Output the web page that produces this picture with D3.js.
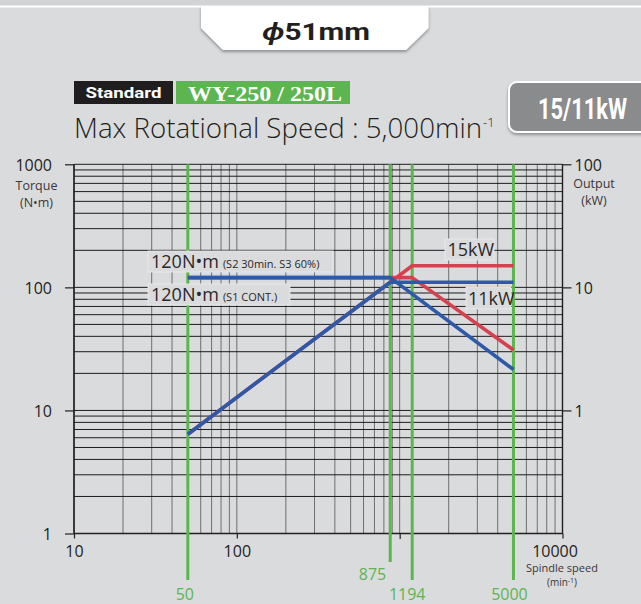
<!DOCTYPE html>
<html>
<head>
<meta charset="utf-8">
<script src="https://cdn.jsdelivr.net/npm/d3@7/dist/d3.min.js"></script>
<style>
  html, body { margin: 0; padding: 0; background: #dadbdd; }
  svg { display: block; }
  text { font-family: "Open Sans", "Noto Sans", sans-serif; fill: #231f20; }
</style>
</head>
<body>
<svg id="chart" width="641" height="604"></svg>
<script>
// Axis ticks and labels
const torqueTicks = [1, 10, 100, 1000];
const outputTicks = [1, 10, 100];
const speedTicks = [10, 100, 1000, 10000];
const speedTickLabels = ["10", "100", "", "10000"];
const markSpeeds = [50, 875, 1194, 5000];

// S1 (continuous) curves
const s1Speed = [50, 875, 5000];
const s1Torque = [120, 120, 21.5];
const s1Output = [0.64, 11, 11];

// S2 30min / S3 60% curves
const s2Speed = [50, 1194, 5000];
const s2Torque = [120, 120, 31];
const s2Output = [0.64, 15, 15];

const BLUE = "#2d5aa8", RED = "#d6414f", GREEN = "#5cb550";

const svg = d3.select("#chart");
const defs = svg.append("defs");
const shadow = defs.append("filter").attr("id", "shadow")
  .attr("x", "-10%").attr("y", "-20%").attr("width", "120%").attr("height", "160%");
shadow.append("feDropShadow").attr("dx", 0).attr("dy", 2)
  .attr("stdDeviation", 1.6).attr("flood-color", "#000").attr("flood-opacity", 0.35);

// ---- header ----
svg.append("rect").attr("x", 0).attr("y", 0).attr("width", 641).attr("height", 6).attr("fill", "#d2d3d5");
svg.append("rect").attr("x", 0).attr("y", 5.5).attr("width", 641).attr("height", 2).attr("fill", "#fff");

svg.append("path")
  .attr("d", "M201,6 L428.5,6 L428.5,28 L406,50 L223,50 L201,28 Z")
  .attr("fill", "#fff").attr("filter", "url(#shadow)");
const tab = svg.append("text").attr("x", 316).attr("y", 39.5).attr("text-anchor", "middle")
  .style("font-family", "Roboto, sans-serif").style("font-weight", 700).style("font-size", "24px")
  .attr("textLength", 108).attr("lengthAdjust", "spacingAndGlyphs");
tab.append("tspan").style("font-style", "italic").text("\u03d5");
tab.append("tspan").text("51mm");

svg.append("rect").attr("x", 74).attr("y", 81).attr("width", 99).attr("height", 23).attr("fill", "#1f1d1e");
svg.append("text").attr("x", 123.5).attr("y", 97.5).attr("text-anchor", "middle")
  .style("font-family", "Roboto, sans-serif").style("font-weight", 700).style("font-size", "14px")
  .style("fill", "#fff").attr("textLength", 76).attr("lengthAdjust", "spacingAndGlyphs").text("Standard");
svg.append("rect").attr("x", 176).attr("y", 81).attr("width", 174).attr("height", 23).attr("fill", GREEN);
svg.append("text").attr("x", 265).attr("y", 100.5).attr("text-anchor", "middle")
  .style("font-family", "'Liberation Serif', serif").style("font-weight", 700).style("font-size", "21px")
  .style("fill", "#fff").attr("textLength", 154).attr("lengthAdjust", "spacingAndGlyphs").text("WY-250 / 250L");

svg.append("text").attr("x", 74).attr("y", 137.5)
  .style("font-size", "27px").style("font-weight", 300)
  .attr("textLength", 408).attr("lengthAdjust", "spacingAndGlyphs")
  .text("Max Rotational Speed : 5,000min");
svg.append("text").attr("x", 483).attr("y", 127).style("font-size", "13px").style("font-weight", 300).text("-1");

svg.append("rect").attr("x", 509).attr("y", 82).attr("width", 140).attr("height", 50).attr("rx", 8)
  .attr("fill", "#8a8b8d").attr("stroke", "#fff").attr("stroke-width", 2).attr("filter", "url(#shadow)");
svg.append("text").attr("x", 582.5).attr("y", 118.5).attr("text-anchor", "middle")
  .style("font-family", "Roboto, sans-serif").style("font-weight", 700).style("font-size", "30px")
  .style("fill", "#fff").attr("textLength", 89).attr("lengthAdjust", "spacingAndGlyphs").text("15/11kW");

// ---- scales ----
const x = d3.scaleLog().domain([10, 10000]).range([74, 562.5]);
const yT = d3.scaleLog().domain([1, 1000]).range([533.5, 164.3]);
const yP = d3.scaleLog().domain([0.1, 100]).range([533.5, 164.3]);
const [x0, x1] = x.range();
const [yBottom, yTop] = yT.range();

// ---- grid ----
const hVals = [];
for (const dec of [1, 10, 100]) for (let k = 1; k <= 9; k++) hVals.push(dec * k);
hVals.push(1000);
const vVals = [];
for (const dec of [10, 100, 1000]) for (let k = 1; k <= 9; k++) vVals.push(dec * k);
vVals.push(10000);

const grid = svg.append("g");
grid.selectAll("line.v").data(vVals).join("line")
  .attr("x1", d => x(d)).attr("x2", d => x(d)).attr("y1", yTop).attr("y2", yBottom)
  .attr("stroke", "#6f6f6f").attr("stroke-width", 1);
grid.selectAll("line.h").data(hVals).join("line")
  .attr("x1", x0).attr("x2", x1).attr("y1", d => yT(d)).attr("y2", d => yT(d))
  .attr("stroke", "#1c1c1c").attr("stroke-width", 1);
// frame
grid.append("line").attr("x1", x0).attr("x2", x0).attr("y1", yTop).attr("y2", yBottom)
  .attr("stroke", "#231f20").attr("stroke-width", 1.6);
grid.append("line").attr("x1", x1).attr("x2", x1).attr("y1", yTop).attr("y2", yBottom)
  .attr("stroke", "#231f20").attr("stroke-width", 1.4);
grid.append("line").attr("x1", x0).attr("x2", x1).attr("y1", yBottom).attr("y2", yBottom)
  .attr("stroke", "#231f20").attr("stroke-width", 1.6);

// ---- axes ----
const leftAxis = svg.append("g").attr("transform", `translate(${x0},0)`)
  .call(d3.axisLeft(yT).tickValues(torqueTicks).tickSize(9).tickPadding(13).tickFormat(d3.format("d")));
const rightAxis = svg.append("g").attr("transform", `translate(${x1},0)`)
  .call(d3.axisRight(yP).tickValues(outputTicks).tickSize(9).tickPadding(3).tickFormat(d3.format("d")));
const bottomAxis = svg.append("g").attr("transform", `translate(0,${yBottom})`)
  .call(d3.axisBottom(x).tickValues(speedTicks).tickSize(5).tickPadding(7)
    .tickFormat((d, i) => speedTickLabels[i]));
for (const ax of [leftAxis, rightAxis, bottomAxis]) {
  ax.select(".domain").remove();
  ax.selectAll(".tick line").attr("stroke", "#231f20").attr("stroke-width", 1.2);
  ax.selectAll(".tick text").style("font-size", "16px").style("fill", "#231f20")
    .attr("font-family", null);
}
leftAxis.selectAll(".tick text").attr("dy", "0.36em");
rightAxis.selectAll(".tick text").attr("dy", "0.36em");
bottomAxis.selectAll(".tick text").attr("dy", "0.72em")
  .attr("dx", (d, i) => (d === 10000 ? -8 : 0));
bottomAxis.selectAll(".tick").filter(d => d === 1000).select("line").attr("y2", 5.5);

// axis titles
const small = (sx, sy, txt, size, anchor) => svg.append("text").attr("x", sx).attr("y", sy)
  .attr("text-anchor", anchor || "middle").style("font-size", size + "px").style("fill", "#3a3637").text(txt);
small(36.5, 190, "Torque", 12.5);
small(36.5, 207, "(N\u2022m)", 12.5);
small(594, 188, "Output", 12.5);
small(594, 205, "(kW)", 12.5);
small(562, 572, "Spindle speed", 11);
const mn = svg.append("text").attr("x", 562).attr("y", 585.5).attr("text-anchor", "middle")
  .style("font-size", "10px").style("fill", "#3a3637");
mn.append("tspan").text("(min");
mn.append("tspan").attr("dy", -3).style("font-size", "7px").text("-1");
mn.append("tspan").attr("dy", 3).text(")");

// ---- speed markers ----
const markEnd = [580, 562, 580, 580];
const markLabel = [
  { dx: -3, y: 600, anchor: "middle" },
  { dx: -4, y: 579.5, anchor: "end" },
  { dx: -5, y: 600, anchor: "middle" },
  { dx: -4, y: 600, anchor: "middle" }
];
svg.append("g").selectAll("line").data(markSpeeds).join("line")
  .attr("x1", d => x(d)).attr("x2", d => x(d)).attr("y1", yTop).attr("y2", (d, i) => markEnd[i])
  .attr("stroke", GREEN).attr("stroke-width", 3);
svg.append("g").selectAll("text").data(markSpeeds).join("text")
  .attr("x", (d, i) => x(d) + markLabel[i].dx).attr("y", (d, i) => markLabel[i].y)
  .attr("text-anchor", (d, i) => markLabel[i].anchor)
  .style("font-size", "16px").style("fill", GREEN).text(d => d);

// ---- annotation backgrounds ----
const boxes = [
  { x: 148, y: 251, w: 185, h: 21 },
  { x: 148, y: 284, w: 142, h: 21 },
  { x: 445, y: 239, w: 49, h: 21 },
  { x: 466, y: 287, w: 45, h: 22 }
];
svg.append("g").selectAll("rect").data(boxes).join("rect")
  .attr("x", d => d.x).attr("y", d => d.y).attr("width", d => d.w).attr("height", d => d.h)
  .attr("fill", "#dadbdd").attr("stroke", "#eeeeef").attr("stroke-width", 0.8);

// ---- curves ----
const lineGen = (ys) => d3.line().x(d => x(d[0])).y(d => ys(d[1]));
const series = [
  { sp: s2Speed, v: s2Torque, y: yT, c: RED },
  { sp: s2Speed, v: s2Output, y: yP, c: RED },
  { sp: s1Speed, v: s1Torque, y: yT, c: BLUE },
  { sp: s1Speed, v: s1Output, y: yP, c: BLUE }
];
svg.append("g").selectAll("path").data(series).join("path")
  .attr("d", s => lineGen(s.y)(s.sp.map((sp, i) => [sp, s.v[i]])))
  .attr("fill", "none").attr("stroke", s => s.c).attr("stroke-width", 3.6)
  .attr("stroke-linejoin", "round");

// ---- annotation texts ----
const ann = (ax, ay, big, note) => {
  const t = svg.append("text").attr("x", ax).attr("y", ay).style("fill", "#2b2728");
  t.append("tspan").style("font-size", "18px").text(big);
  if (note) t.append("tspan").attr("dx", 4).style("font-size", "11px").text(note);
  return t;
};
ann(151, 268, "120N\u2022m", "(S2 30min. S3 60%)");
ann(151, 300.5, "120N\u2022m", "(S1 CONT.)");
ann(447.5, 256, "15kW");
ann(468, 305, "11kW");
</script>
</body>
</html>
